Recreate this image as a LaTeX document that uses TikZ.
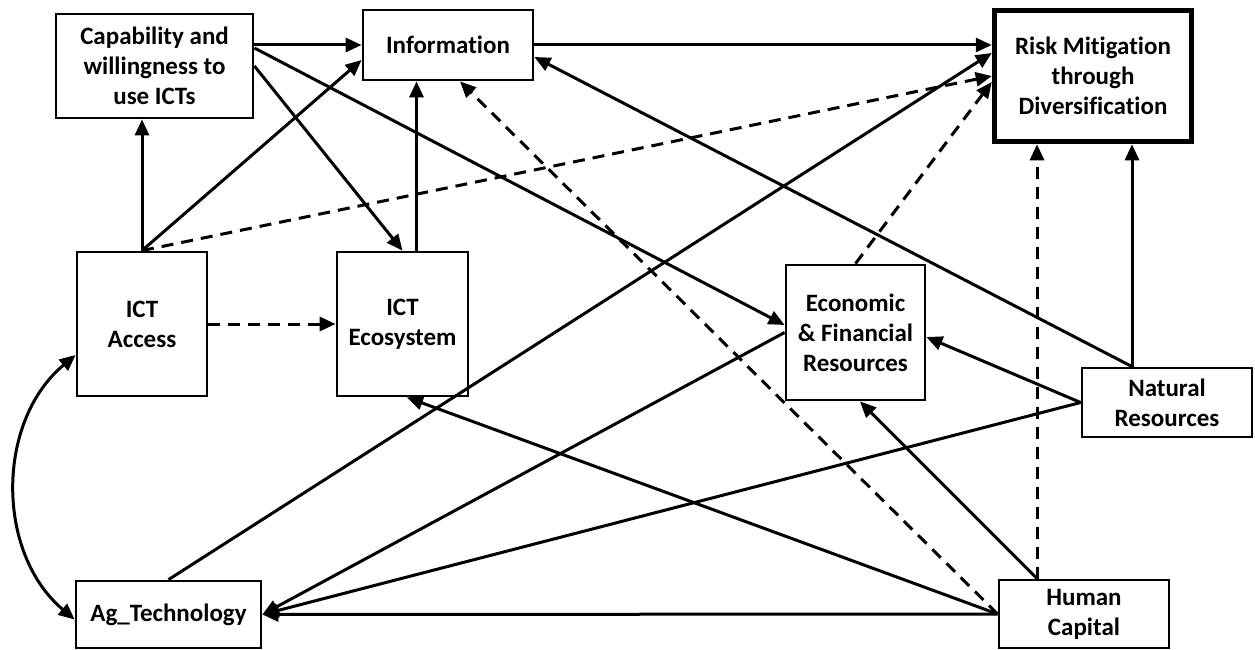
\documentclass[tikz,border=0pt]{standalone}
\usepackage{fontspec}
\setmainfont{Carlito}[Ligatures={NoCommon}]
\usetikzlibrary{arrows.meta,calc}
\begin{document}
\begin{tikzpicture}[x=1pt,y=-1pt,
  box/.style={draw, line width=2.8pt, inner sep=0pt, align=center, fill=white,
    font=\fontsize{25pt}{30pt}\selectfont\bfseries},
  conn/.style={line width=3pt, -{Triangle[length=16pt,width=14pt]}},
  dconn/.style={conn, dash pattern=on 12pt off 8pt}]
\useasboundingbox (0,0) rectangle (1255,650);
\node[box, minimum width=197pt, minimum height=104pt] (cap) at (154.5,66) {Capability and\\willingness to\\use ICTs};
\node[box, minimum width=170pt, minimum height=70pt] (info) at (448,45) {Information};
\node[box, line width=5.5pt, minimum width=197pt, minimum height=131pt] (risk) at (1093,76) {Risk Mitigation\\through\\Diversification};
\node[box, minimum width=130pt, minimum height=144pt] (access) at (142,324) {ICT\\Access};
\node[box, minimum width=131pt, minimum height=144pt] (eco) at (402.5,324) {ICT\\Ecosystem};
\node[box, minimum width=139pt, minimum height=135pt] (econ) at (855.5,332.5) {Economic\\\& Financial\\Resources};
\node[box, minimum width=170pt, minimum height=69pt] (nat) at (1167,402.5) {Natural\\Resources};
\node[box, minimum width=185pt, minimum height=67pt] (ag) at (168.5,614.5) {Ag\_Technology};
\node[box, minimum width=170pt, minimum height=68pt] (hum) at (1084,614) {Human\\Capital};
\coordinate (natTop) at ([xshift=-35pt]nat.north);
\coordinate (humTop) at ([xshift=-47pt]hum.north);
% connectors
\draw[conn] (access.north) -- (access.north |- cap.south);
\draw[conn] (access.north) -- ([yshift=-15pt]info.west);
\draw[dconn] (access.north) -- (risk.west);
\draw[conn] (cap.east |- info.west) -- (info.west);
\draw[conn] (cap.east) -- (eco.north);
\draw[conn] ([yshift=18pt]cap.east) -- ([yshift=7.5pt]econ.west);
\draw[conn] ([xshift=14pt]eco.north) -- ([xshift=14pt]eco.north |- info.south);
\draw[dconn] (access.east) -- (eco.west);
\draw[conn] (info.east) -- (info.east -| risk.west);
\draw[dconn] (econ.north) -- ([yshift=-6pt]risk.west);
\draw[conn] (ag.north) -- ([yshift=23pt]risk.west);
\draw[conn] (natTop) -- ([yshift=-12pt]info.east);
\draw[conn] (natTop) -- (natTop |- risk.south);
\draw[conn] (nat.west) -- ([yshift=-4.5pt]econ.east);
\draw[conn] (nat.west) -- (ag.east);
\draw[conn] (econ.west) -- (ag.east);
\draw[dconn] (humTop) -- (humTop |- risk.south);
\draw[conn] (humTop) -- ([xshift=4.5pt]econ.south);
\draw[conn] (hum.west) -- (ag.east);
\draw[conn] (hum.west) -- ([xshift=4.5pt]eco.south);
\draw[dconn] (hum.west) -- ([xshift=12pt]info.south);
\draw[line width=3pt, {Triangle[length=16pt,width=14pt]}-{Triangle[length=16pt,width=14pt]}]
  ([yshift=-31pt]access.west) to[bend right=50] ([yshift=-5pt]ag.west);
\end{tikzpicture}
\end{document}
